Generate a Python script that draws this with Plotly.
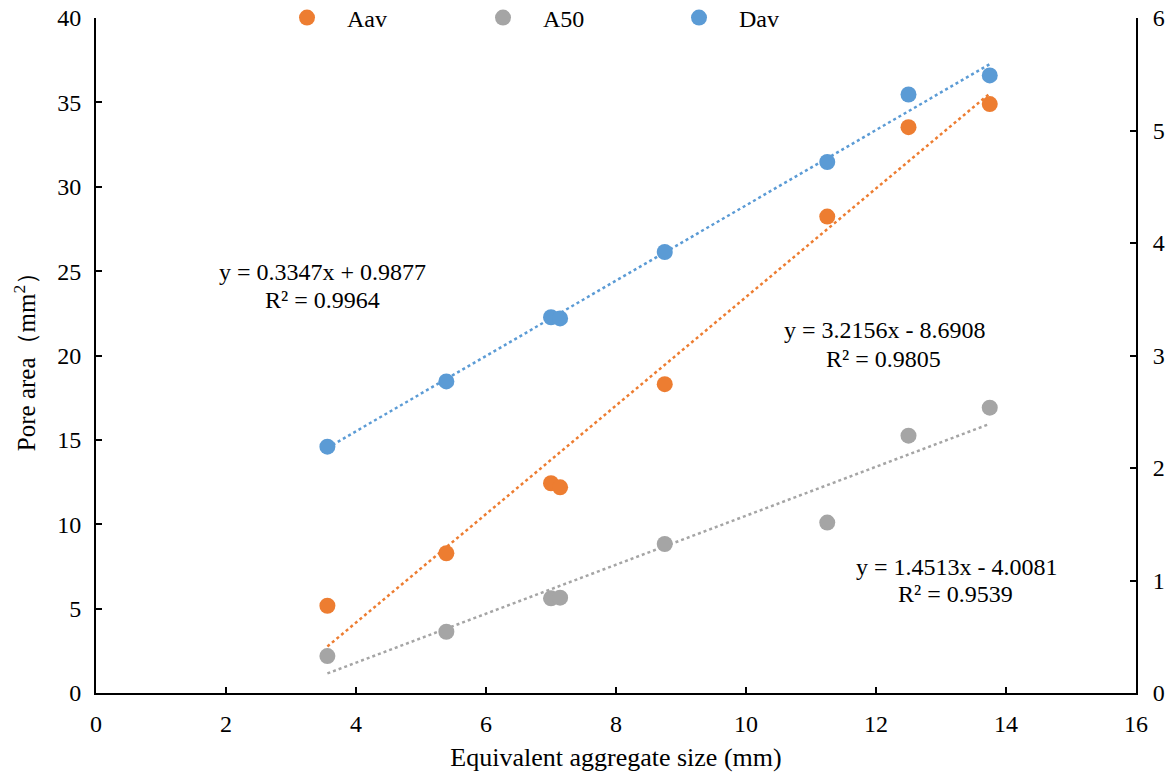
import plotly.graph_objects as go

# Equivalent aggregate size (mm)
size_mm = [3.56, 5.39, 7.00, 7.14, 8.75, 11.25, 12.50, 13.75]
# Average pore area and median pore area (mm^2), left axis
aav = [5.17, 8.28, 12.43, 12.19, 18.30, 28.23, 33.53, 34.90]
a50 = [2.19, 3.63, 5.61, 5.65, 8.83, 10.10, 15.25, 16.91]
# Average pore diameter, right axis
dav = [2.19, 2.77, 3.34, 3.33, 3.92, 4.72, 5.32, 5.49]

# Linear trendline coefficients (slope, intercept, R^2)
fit_aav = (3.2156, -8.6908, 0.9805)
fit_a50 = (1.4513, -4.0081, 0.9539)
fit_dav = (0.3347, 0.9877, 0.9964)

ORANGE = "#ED7D31"
GRAY = "#A5A5A5"
BLUE = "#5B9BD5"
FONT = "Liberation Serif"

x_ends = [min(size_mm), max(size_mm)]


def trend(fit):
    k, b, _ = fit
    return [k * v + b for v in x_ends]


def eq_lines(fit):
    k, b, r2 = fit
    sign = "+" if b >= 0 else "-"
    return f"y = {k:.4f}x {sign} {abs(b):.4f}", f"R² = {r2:.4f}"


fig = go.Figure()

# dotted trendlines
fig.add_trace(go.Scatter(x=x_ends, y=trend(fit_aav), mode="lines",
                         line=dict(color=ORANGE, width=2.5, dash="dot"),
                         showlegend=False, hoverinfo="skip"))
fig.add_trace(go.Scatter(x=x_ends, y=trend(fit_a50), mode="lines",
                         line=dict(color=GRAY, width=2.5, dash="dot"),
                         showlegend=False, hoverinfo="skip"))
fig.add_trace(go.Scatter(x=x_ends, y=trend(fit_dav), mode="lines", yaxis="y2",
                         line=dict(color=BLUE, width=2.5, dash="dot"),
                         showlegend=False, hoverinfo="skip"))

# data points
fig.add_trace(go.Scatter(x=size_mm, y=aav, mode="markers", name="Aav",
                         marker=dict(color=ORANGE, size=16)))
fig.add_trace(go.Scatter(x=size_mm, y=a50, mode="markers", name="A50",
                         marker=dict(color=GRAY, size=16)))
fig.add_trace(go.Scatter(x=size_mm, y=dav, mode="markers", name="Dav", yaxis="y2",
                         marker=dict(color=BLUE, size=16)))

axis_common = dict(showline=True, linecolor="black", linewidth=2,
                   ticks="inside", ticklen=6, tickwidth=2, tickcolor="black",
                   showgrid=False, zeroline=False,
                   tickfont=dict(family=FONT, size=24, color="black"))

fig.update_layout(
    width=1173, height=776,
    margin=dict(l=96, r=37, t=18, b=83, autoexpand=False),
    paper_bgcolor="white", plot_bgcolor="white",
    font=dict(family=FONT, size=24, color="black"),
    xaxis=dict(range=[0, 16], dtick=2, ticklabelstandoff=8,
               title=dict(text="Equivalent aggregate size (mm)",
                          font=dict(family=FONT, size=26), standoff=12),
               **axis_common),
    yaxis=dict(range=[0, 40], dtick=5, ticklabelstandoff=8,
               title=dict(text="Pore area（mm<sup>2</sup>）",
                          font=dict(family=FONT, size=25), standoff=14),
               **axis_common),
    yaxis2=dict(range=[0, 6], dtick=1, overlaying="y", side="right",
                ticklabelstandoff=10, **axis_common),
    legend=dict(orientation="h", x=267 / 1173, xanchor="left",
                xref="container", yref="container",
                y=1 - 18 / 776, yanchor="middle",
                itemwidth=70,
                entrywidth=111, entrywidthmode="pixels",
                font=dict(family=FONT, size=24), bgcolor="rgba(0,0,0,0)"),
    showlegend=True,
)

for fit, pos in [(fit_dav, [(3.48, 24.96), (3.49, 23.30)]),
                 (fit_aav, [(12.14, 21.52), (12.11, 19.80)]),
                 (fit_a50, [(13.25, 7.47), (13.22, 5.87)])]:
    for text, (ax, ay) in zip(eq_lines(fit), pos):
        fig.add_annotation(x=ax, y=ay, xref="x", yref="y", text=text,
                           showarrow=False, align="center",
                           font=dict(family=FONT, size=24, color="black"))

fig.write_html("out.html")
